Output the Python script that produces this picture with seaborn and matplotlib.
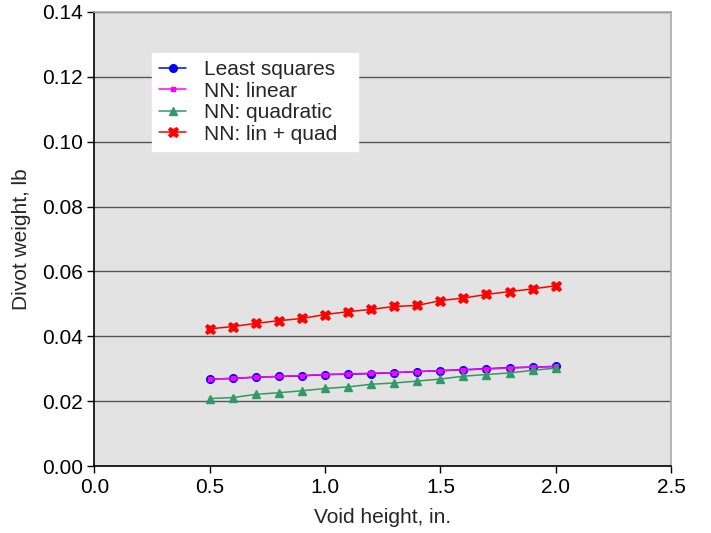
import matplotlib
matplotlib.use("Agg")
import matplotlib.pyplot as plt
import seaborn as sns
import pandas as pd

void_height = [0.5, 0.6, 0.7, 0.8, 0.9, 1.0, 1.1, 1.2, 1.3, 1.4, 1.5, 1.6, 1.7, 1.8, 1.9, 2.0]
least_squares = [0.0268, 0.0270, 0.0274, 0.0276, 0.0278, 0.0282, 0.0283, 0.0285, 0.0288, 0.0291, 0.0294, 0.0297, 0.0300, 0.0303, 0.0305, 0.0307]
nn_linear = [0.0268, 0.0270, 0.0274, 0.0276, 0.0279, 0.0282, 0.0284, 0.0286, 0.0288, 0.0291, 0.0294, 0.0296, 0.0299, 0.0302, 0.0305, 0.0307]
nn_quadratic = [0.0208, 0.0211, 0.0221, 0.0226, 0.0232, 0.0239, 0.0244, 0.0252, 0.0256, 0.0262, 0.0268, 0.0277, 0.0282, 0.0287, 0.0295, 0.0302]
nn_lin_quad = [0.0423, 0.0430, 0.0440, 0.0448, 0.0455, 0.0467, 0.0476, 0.0483, 0.0492, 0.0495, 0.0510, 0.0518, 0.0529, 0.0538, 0.0546, 0.0556]

series_names = ["Least squares", "NN: linear", "NN: quadratic", "NN: lin + quad"]
series_values = [least_squares, nn_linear, nn_quadratic, nn_lin_quad]
colors = ["#0000ff", "#ff00ff", "#339966", "#ff0000"]
markers = ["o", "s", "^", "X"]
msizes = [5.5, 3, 5.5, 7.5]

x_ticks = [0.0, 0.5, 1.0, 1.5, 2.0, 2.5]
y_ticks = [0.00, 0.02, 0.04, 0.06, 0.08, 0.10, 0.12, 0.14]

sns.set_style("white")
plt.rcParams["font.family"] = ["Liberation Sans", "DejaVu Sans"]

fig = plt.figure(figsize=(7.11, 5.33), dpi=100)
ax = fig.add_axes([0.1329, 0.1257, 0.8108, 0.8518])
ax.set_facecolor("#e3e3e3")

rows = []
for name, vals in zip(series_names, series_values):
    for xv, yv in zip(void_height, vals):
        rows.append({"x": xv, "y": yv, "series": name})
df = pd.DataFrame(rows)

for name, c, m, ms in zip(series_names, colors, markers, msizes):
    sub = df[df["series"] == name]
    sns.lineplot(data=sub, x="x", y="y", ax=ax, color=c, marker=m, markersize=ms,
                 markeredgecolor=c, markeredgewidth=1.0 if m != "X" else 0.6,
                 linewidth=1.1, label=name, zorder=3)

ax.set_xlim(0, 2.5)
ax.set_ylim(0, 0.14)
ax.set_xticks(x_ticks)
ax.set_yticks(y_ticks)
ax.set_xticklabels([f"{v:.1f}" for v in x_ticks])
ax.set_yticklabels([f"{v:.2f}" for v in y_ticks])
ax.yaxis.grid(True, color="#555555", linewidth=1.0)
ax.xaxis.grid(False)
ax.set_axisbelow(True)

for s in ["left", "bottom"]:
    ax.spines[s].set_color("black")
    ax.spines[s].set_linewidth(1.2)
for s in ["top", "right"]:
    ax.spines[s].set_color("#aaaaaa")
    ax.spines[s].set_linewidth(1.2)

ax.tick_params(axis="both", direction="out", length=5, width=1, colors="black",
               labelsize=15, left=True, bottom=True)
ax.set_xlabel("Void height, in.", fontsize=15, labelpad=8)
ax.set_ylabel("Divot weight, lb", fontsize=15, labelpad=8)

leg = ax.legend(loc="upper left", bbox_to_anchor=(0.0997, 0.9097, 0.357, 0.0),
                mode="expand", fontsize=15,
                frameon=True, fancybox=False, framealpha=1.0, edgecolor="white",
                handlelength=1.3, labelspacing=0.12, borderpad=0.35, handletextpad=0.85,
                borderaxespad=0.0)
leg.get_frame().set_facecolor("white")

fig.savefig("out.png", dpi=100)
